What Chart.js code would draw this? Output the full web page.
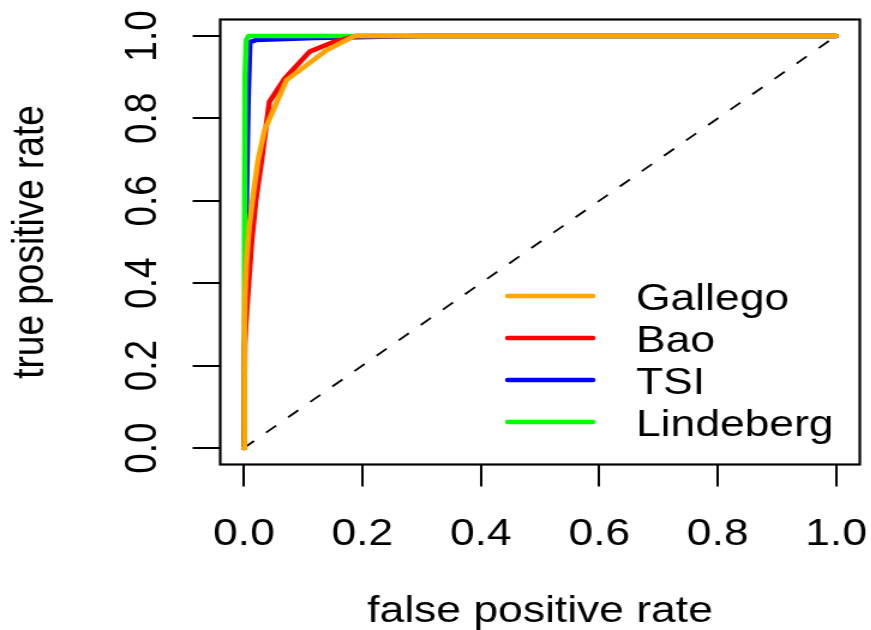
<!DOCTYPE html>
<html>
<head>
<meta charset="utf-8">
<script src="https://cdn.jsdelivr.net/npm/chart.js@4"></script>
<style>
  html, body { margin: 0; padding: 0; background: #fff; overflow: hidden; }
  /* the reference is stretched sideways, so the canvas is drawn narrow and widened */
  #roc { display: block; transform: scaleX(1.2); transform-origin: 0 0; }
</style>
</head>
<body>
<canvas id="roc" width="726" height="630"></canvas>
<script>
let seriesNames = ['Gallego', 'Bao', 'TSI', 'Lindeberg'];
let seriesColors = ['#FFA500', '#FF0000', '#0000FF', '#00FF00'];

let gallegoFpr = [0, 0.001, 0.002, 0.0045, 0.009, 0.016, 0.024, 0.035, 0.072, 0.14, 0.187, 1];
let gallegoTpr = [0, 0.30, 0.375, 0.456, 0.537, 0.618, 0.70, 0.772, 0.893, 0.966, 1.0, 1];

let baoFpr = [0, 0.001, 0.005, 0.008, 0.013, 0.02, 0.03, 0.043, 0.069, 0.111, 0.15, 0.19, 1];
let baoTpr = [0, 0.25, 0.34, 0.40, 0.50, 0.60, 0.70, 0.84, 0.897, 0.962, 0.985, 1.0, 1];

let tsiFpr = [0, 0.003, 0.007, 0.010, 0.02, 0.12, 0.30, 1];
let tsiTpr = [0, 0.50, 0.84, 0.985, 0.99, 0.995, 1.0, 1];

let lindebergFpr = [0, 0.001, 0.002, 0.004, 0.008, 1];
let lindebergTpr = [0, 0.50, 0.90, 0.99, 1.0, 1];

let xTicks = [0, 0.2, 0.4, 0.6, 0.8, 1.0];
let yTicks = [0, 0.2, 0.4, 0.6, 0.8, 1.0];

const FONT = '37px "Liberation Sans", Arial, sans-serif';

function toPoints(xs, ys) {
  return xs.map((x, i) => ({ x: x, y: ys[i] }));
}

let curves = [
  toPoints(gallegoFpr, gallegoTpr),
  toPoints(baoFpr, baoTpr),
  toPoints(tsiFpr, tsiTpr),
  toPoints(lindebergFpr, lindebergTpr)
];
// draw order: Gallego on top, then Bao, Lindeberg, TSI
let drawOrder = [0, 1, 3, 2];

let datasets = curves.map((pts, i) => ({
  label: seriesNames[i],
  data: pts,
  borderColor: seriesColors[i],
  backgroundColor: seriesColors[i],
  borderWidth: 4.5,
  borderCapStyle: 'round',
  borderJoinStyle: 'round',
  pointRadius: 0,
  tension: 0,
  fill: false,
  order: drawOrder[i]
}));

datasets.push({
  label: 'chance',
  data: [{ x: 0, y: 0 }, { x: 1, y: 1 }],
  borderColor: '#000',
  borderWidth: 1.8,
  borderDash: [11, 13],
  pointRadius: 0,
  fill: false,
  order: 9
});

const rocDecor = {
  id: 'rocDecor',
  afterDraw(chart) {
    const ctx = chart.ctx;
    const a = chart.chartArea;
    const xs = chart.scales.x, ys = chart.scales.y;
    ctx.save();
    ctx.strokeStyle = '#000';
    ctx.lineWidth = 2.2;
    ctx.strokeRect(a.left, a.top, a.right - a.left, a.bottom - a.top);

    ctx.fillStyle = '#000';
    ctx.font = FONT;
    ctx.textAlign = 'center';
    ctx.textBaseline = 'alphabetic';
    xs.ticks.forEach(t => {
      ctx.fillText(t.value.toFixed(1), xs.getPixelForValue(t.value), 545);
    });
    ys.ticks.forEach(t => {
      ctx.save();
      ctx.translate(130, ys.getPixelForValue(t.value));
      ctx.rotate(-Math.PI / 2);
      ctx.fillText(t.value.toFixed(1), 0, 0);
      ctx.restore();
    });

    // axis titles
    ctx.fillText('false positive rate', xs.getPixelForValue(0.5), 622);
    ctx.save();
    ctx.translate(36, ys.getPixelForValue(0.5));
    ctx.rotate(-Math.PI / 2);
    ctx.fillText('true positive rate', 0, 0);
    ctx.restore();

    // legend inside the plot, R style
    ctx.textAlign = 'left';
    ctx.lineCap = 'round';
    ctx.lineWidth = 4.5;
    seriesNames.forEach((name, i) => {
      const y = 296 + i * 42;
      ctx.strokeStyle = seriesColors[i];
      ctx.beginPath();
      ctx.moveTo(423, y);
      ctx.lineTo(494, y);
      ctx.stroke();
      ctx.fillText(name, 530, y + 13.5);
    });
    ctx.restore();
  }
};

let rocChart = new Chart(document.getElementById('roc').getContext('2d'), {
  type: 'line',
  data: { datasets: datasets },
  options: {
    responsive: false,
    animation: false,
    layout: { padding: { top: 19.5, right: 9.5, left: 0, bottom: 0 } },
    plugins: {
      legend: { display: false },
      tooltip: { enabled: false },
      title: { display: false }
    },
    scales: {
      x: {
        type: 'linear',
        min: -0.04,
        max: 1.04,
        afterBuildTicks: scale => { scale.ticks = xTicks.map(v => ({ value: v })); },
        afterFit: scale => { scale.height = 165.5; },
        ticks: { display: false },
        grid: { drawOnChartArea: false, drawTicks: true, tickLength: 22, color: '#000', lineWidth: 2 },
        border: { display: false }
      },
      y: {
        type: 'linear',
        min: -0.04,
        max: 1.04,
        afterBuildTicks: scale => { scale.ticks = yTicks.map(v => ({ value: v })); },
        afterFit: scale => { scale.width = 183.5; },
        ticks: { display: false },
        grid: { drawOnChartArea: false, drawTicks: true, tickLength: 23, color: '#000', lineWidth: 2 },
        border: { display: false }
      }
    }
  },
  plugins: [rocDecor]
});
</script>
</body>
</html>
